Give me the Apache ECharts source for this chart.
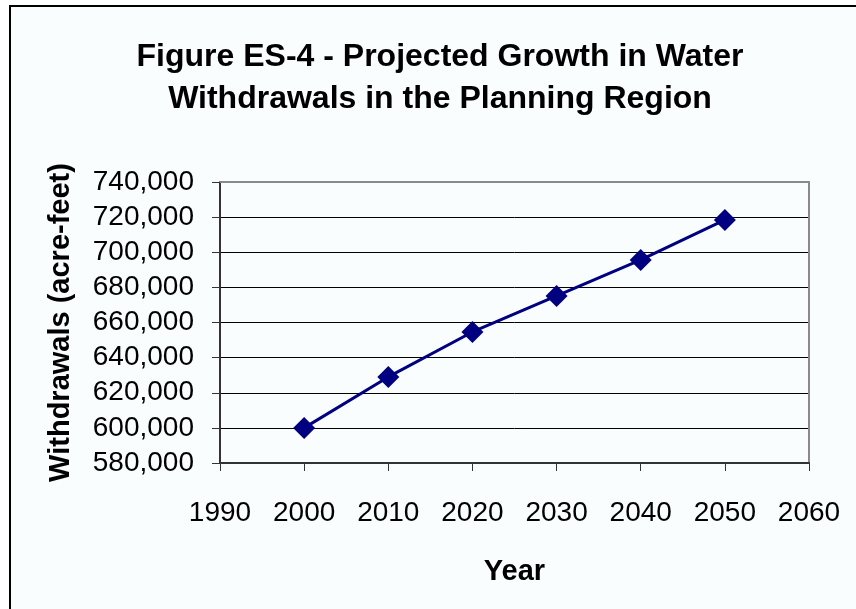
<!DOCTYPE html>
<html>
<head>
<meta charset="utf-8">
<style>
  html, body { margin: 0; padding: 0; background: #ffffff; }
  #chart { width: 856px; height: 609px; }
</style>
<script src="https://cdn.jsdelivr.net/npm/echarts@6/dist/echarts.min.js"></script>
</head>
<body>
<div id="chart"></div>
<script>
// Projected water withdrawals (acre-feet) by year
const years = [2000, 2010, 2020, 2030, 2040, 2050];
const withdrawals = [600000, 629000, 654600, 675100, 695600, 718400];

const titleLines = ['Figure ES-4 - Projected Growth in Water', 'Withdrawals in the Planning Region'];
const xAxisName = 'Year';
const yAxisName = 'Withdrawals (acre-feet)';

const FONT = '"Liberation Sans", Arial, sans-serif';
const fmt = v => Math.round(v).toLocaleString('en-US');

const chart = echarts.init(document.getElementById('chart'), null, { renderer: 'canvas' });

chart.setOption({
  animation: false,
  backgroundColor: '#ffffff',
  graphic: [
    {
      type: 'rect',
      z: -10,
      shape: { x: 10, y: 6, width: 900, height: 700 },
      style: { fill: '#f9fdfd', stroke: '#000000', lineWidth: 2 }
    }
  ],
  title: {
    text: titleLines.join('\n'),
    left: 435,
    top: 31,
    textAlign: 'center',
    textStyle: {
      fontFamily: FONT, fontWeight: 'bold', fontSize: 32, color: '#000000', lineHeight: 42
    }
  },
  grid: { left: 220, top: 182, right: 47, bottom: 146, containLabel: false },
  xAxis: [
    {
      type: 'value',
      min: 1990, max: 2060, interval: 10,
      name: xAxisName,
      nameLocation: 'middle',
      nameGap: 94,
      nameTextStyle: { fontFamily: FONT, fontWeight: 'bold', fontSize: 29, color: '#000' },
      axisLine: { onZero: false, lineStyle: { color: '#333333', width: 2 } },
      axisTick: { show: true, inside: false, length: 8, lineStyle: { color: '#333333', width: 1 } },
      axisLabel: { fontFamily: FONT, fontSize: 28, color: '#000', margin: 36, formatter: v => String(v) },
      splitLine: { show: false }
    },
    {
      type: 'value', position: 'top',
      min: 1990, max: 2060, interval: 10,
      axisLine: { onZero: false, lineStyle: { color: '#8a8a8a', width: 2 } },
      axisTick: { show: false }, axisLabel: { show: false }, splitLine: { show: false }
    }
  ],
  yAxis: [
    {
      type: 'value',
      min: 580000, max: 740000, interval: 20000,
      name: yAxisName,
      nameLocation: 'middle',
      nameGap: 145,
      nameTextStyle: { fontFamily: FONT, fontWeight: 'bold', fontSize: 29, color: '#000' },
      axisLine: { show: true, onZero: false, lineStyle: { color: '#333333', width: 2 } },
      axisTick: { show: true, inside: false, length: 8, lineStyle: { color: '#333333', width: 1 } },
      axisLabel: { fontFamily: FONT, fontSize: 28, color: '#000', margin: 26, formatter: fmt },
      splitLine: { show: true, lineStyle: { color: '#000000', width: 1 } }
    },
    {
      type: 'value', position: 'right',
      min: 580000, max: 740000, interval: 20000,
      axisLine: { show: true, onZero: false, lineStyle: { color: '#8a8a8a', width: 2 } },
      axisTick: { show: false }, axisLabel: { show: false }, splitLine: { show: false }
    }
  ],
  series: [
    {
      type: 'line',
      data: years.map((y, i) => [y, withdrawals[i]]),
      xAxisIndex: 0,
      yAxisIndex: 0,
      symbol: 'diamond',
      symbolSize: 22,
      lineStyle: { color: '#000080', width: 3 },
      itemStyle: { color: '#000080' },
      z: 5
    }
  ]
});
</script>
</body>
</html>
